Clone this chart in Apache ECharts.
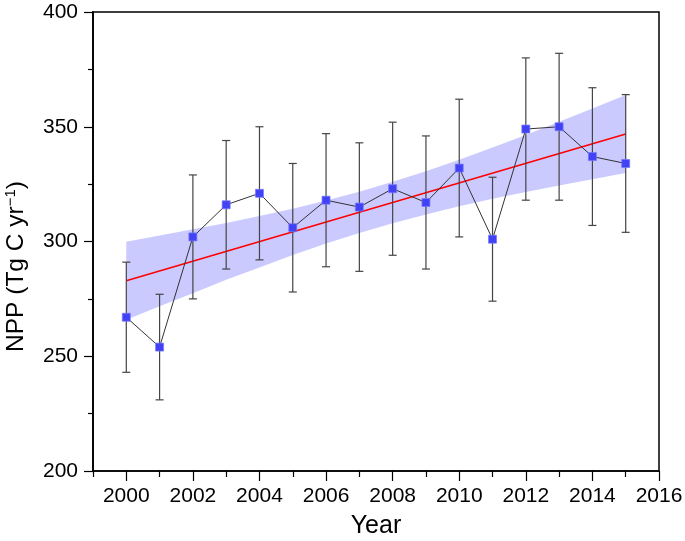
<!DOCTYPE html>
<html>
<head>
<meta charset="utf-8">
<script src="https://cdn.jsdelivr.net/npm/echarts@6/dist/echarts.min.js"></script>
<style>html,body{margin:0;padding:0;background:#fff;}#c{width:685px;height:541px;}</style>
</head>
<body>
<div id="c"></div>
<script>
const years = [2000,2001,2002,2003,2004,2005,2006,2007,2008,2009,2010,2011,2012,2013,2014,2015];
const npp = [267,254,302,316,321,306,318,315,323,317,332,301,349,350,337,334];
const errLow = [243,231,275,288,292,278,289,287,294,288,302,274,318,318,307,304];
const errHigh = [291,277,329,344,350,334,347,343,352,346,362,328,380,382,367,364];
const fitYears = [2000, 2015];
const fitValues = [282.9, 346.8];
const bandUpper = [299.9,302.6,305.3,308.1,311.1,314.3,317.9,321.7,326.0,330.6,335.6,341.0,346.4,352.2,357.9,363.8];
const bandLower = [265.9,271.8,277.5,283.3,288.7,294.1,299.1,303.7,308.0,311.8,315.4,318.6,321.6,324.4,327.1,329.8];
const xMajorTicks = [2000,2002,2004,2006,2008,2010,2012,2014,2016];
const xMinorTicks = [1999,2001,2003,2005,2007,2009,2011,2013,2015];

const FONT = 'Liberation Sans, Arial, sans-serif';
const chart = echarts.init(document.getElementById('c'));

const option = {
  animation: false,
  backgroundColor: '#fff',
  grid: {left: 93, right: 26, top: 12, bottom: 70, containLabel: false, outerBoundsMode: 'none',
    show: true, borderColor: '#000', borderWidth: 1.5, backgroundColor: 'transparent'},
  xAxis: [{
    type: 'value', min: 1999, max: 2016, position: 'bottom',
    name: 'Year', nameLocation: 'middle', nameGap: 43,
    nameTextStyle: {fontFamily: FONT, fontSize: 25, color: '#000'},
    axisLine: {show: true, onZero: false, lineStyle: {color: '#000', width: 1.5}},
    axisTick: {show: true, length: 10, customValues: xMajorTicks, lineStyle: {color: '#000', width: 1.2}},
    axisLabel: {show: true, customValues: xMajorTicks, margin: 15, fontFamily: FONT, fontSize: 21, color: '#000',
      formatter: function (v) { return String(v); }},
    splitLine: {show: false}
  }, {
    type: 'value', min: 1999, max: 2016, position: 'bottom',
    axisLine: {show: false},
    axisTick: {show: true, length: 6, customValues: xMinorTicks, lineStyle: {color: '#000', width: 1.2}},
    axisLabel: {show: false},
    splitLine: {show: false}
  }],
  yAxis: {
    type: 'value', min: 200, max: 400, interval: 50,
    name: 'NPP (Tg C yr{sup|\u22121})', nameLocation: 'middle', nameGap: 63, nameRotate: 90,
    nameTextStyle: {fontFamily: FONT, fontSize: 24.5, color: '#000', padding: [0, 50, 0, 0],
      rich: {sup: {fontFamily: FONT, fontSize: 15, color: '#000', verticalAlign: 'top', padding: [0,0,12,0]}}},
    axisLine: {show: true, onZero: false, lineStyle: {color: '#000', width: 1.8}},
    axisTick: {show: true, length: 9, lineStyle: {color: '#000', width: 1.2}},
    minorTick: {show: true, splitNumber: 2, length: 5, lineStyle: {color: '#000', width: 1.2}},
    axisLabel: {margin: 15, fontFamily: FONT, fontSize: 21, color: '#000'},
    splitLine: {show: false}
  },
  series: [
    {
      type: 'custom', name: 'band', z: 1, silent: true,
      data: [[years[0], bandLower[0]]],
      renderItem: function (params, api) {
        const pts = [];
        for (let i = 0; i < years.length; i++) pts.push(api.coord([years[i], bandUpper[i]]));
        for (let i = years.length - 1; i >= 0; i--) pts.push(api.coord([years[i], bandLower[i]]));
        return {type: 'polygon', shape: {points: pts}, style: {fill: '#CACAFF', stroke: 'none'}};
      }
    },
    {
      type: 'line', name: 'fit', z: 2, silent: true,
      data: fitYears.map((y, i) => [y, fitValues[i]]),
      showSymbol: false, symbol: 'none',
      lineStyle: {color: '#FF0000', width: 1.6}
    },
    {
      type: 'custom', name: 'err', z: 3, silent: true,
      data: years.map((y, i) => [y, errLow[i], errHigh[i]]),
      encode: {x: 0, y: [1, 2]},
      renderItem: function (params, api) {
        const x = api.value(0);
        const lo = api.coord([x, api.value(1)]);
        const hi = api.coord([x, api.value(2)]);
        const hw = 4;
        const st = {stroke: '#444', lineWidth: 1.2};
        return {type: 'group', children: [
          {type: 'line', shape: {x1: lo[0], y1: lo[1], x2: hi[0], y2: hi[1]}, style: st},
          {type: 'line', shape: {x1: lo[0] - hw, y1: lo[1], x2: lo[0] + hw, y2: lo[1]}, style: st},
          {type: 'line', shape: {x1: hi[0] - hw, y1: hi[1], x2: hi[0] + hw, y2: hi[1]}, style: st}
        ]};
      }
    },
    {
      type: 'line', name: 'NPP', z: 4, silent: true,
      data: years.map((y, i) => [y, npp[i]]),
      symbol: 'rect', symbolSize: 8, showSymbol: true,
      lineStyle: {color: '#333', width: 1},
      itemStyle: {color: '#4242F5', borderColor: 'rgba(120,120,255,0.7)', borderWidth: 1}
    }
  ]
};
chart.setOption(option);
</script>
</body>
</html>
